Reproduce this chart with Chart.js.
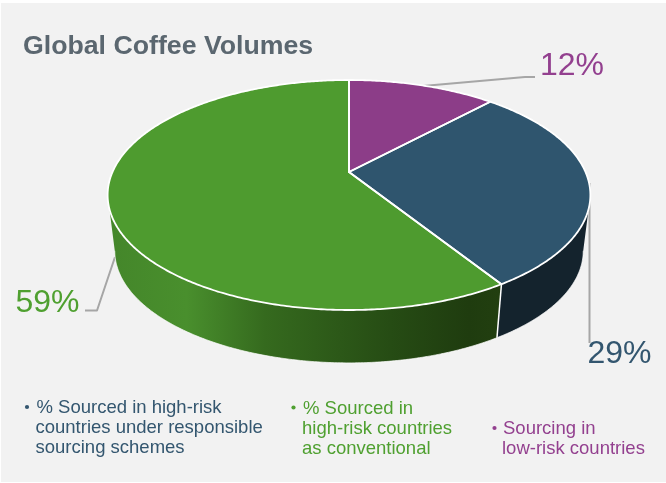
<!DOCTYPE html>
<html>
<head>
<meta charset="utf-8">
<style>
html,body{margin:0;padding:0;background:#fff;width:666px;height:483px;overflow:hidden}
canvas{display:block}
</style>
<script src="https://cdn.jsdelivr.net/npm/chart.js@4/dist/chart.umd.min.js"></script>
</head>
<body>
<canvas id="c" width="666" height="483"></canvas>
<script>
const titleText = 'Global Coffee Volumes';
const categories = ['Sourcing in low-risk countries', '% Sourced in high-risk countries under responsible sourcing schemes', '% Sourced in high-risk countries as conventional'];
const shares = [12, 29, 59];
const topColors = ['#8c3d88', '#2f556e', '#4e9b2f'];
const labelColors = ['#93408f', '#33566f', '#4fa030'];
const legendLow = ['Sourcing in', 'low-risk countries'];
const legendResponsible = ['% Sourced in high-risk', 'countries under responsible', 'sourcing schemes'];
const legendConventional = ['% Sourced in', 'high-risk countries', 'as conventional'];

const FONT = '"Liberation Sans", Arial, sans-serif';
const TOP = {cx: 349, cy: 172, a: 236.5, b: 110.4, k: 0.2};
const BOT = {cx: 349, cy: 228.4, a: 229.5, b: 107.6, k: 0.2};
const project = (g, t) => {
  const u = Math.cos(t), v = Math.sin(t), w = 1 - g.k * v;
  return [g.cx + g.a * u / w, g.cy + g.b * v / w];
};
const trace = (ctx, g, s, e, first) => {
  const n = Math.max(2, Math.ceil(Math.abs(e - s) / 0.01));
  for (let i = 0; i <= n; i++) {
    const p = project(g, s + (e - s) * i / n);
    if (i === 0 && first) ctx.moveTo(p[0], p[1]); else ctx.lineTo(p[0], p[1]);
  }
};
const polyline = (ctx, pts, color, w) => {
  ctx.beginPath();
  pts.forEach((p, i) => i ? ctx.lineTo(p[0], p[1]) : ctx.moveTo(p[0], p[1]));
  ctx.strokeStyle = color; ctx.lineWidth = w; ctx.lineJoin = 'round'; ctx.stroke();
};
const text = (ctx, s, x, y, font, color) => {
  ctx.font = font; ctx.fillStyle = color; ctx.textAlign = 'left'; ctx.textBaseline = 'alphabetic';
  ctx.fillText(s, x, y);
};
const block = (ctx, lines, bulletX, xs, y0, color) => {
  const f = '18.5px ' + FONT;
  ctx.beginPath(); ctx.arc(bulletX, y0 - 6, 2.1, 0, Math.PI * 2); ctx.fillStyle = color; ctx.fill();
  lines.forEach((l, i) => text(ctx, l, i ? xs - 1 : xs, y0 + i * 20.2, f, color));
};

const pie3d = {
  id: 'pie3d',
  beforeDraw(chart) {
    const ctx = chart.ctx;
    ctx.save();
    ctx.fillStyle = '#f2f2f2';
    ctx.fillRect(1, 3, 665, 479);
    ctx.restore();
  },
  beforeDatasetsDraw(chart) {
    const ctx = chart.ctx, arcs = chart.getDatasetMeta(0).data;
    const vis0 = Math.asin(TOP.k), vis1 = Math.PI - vis0;
    ctx.save();
    // leader lines
    polyline(ctx, [[423, 86], [525, 77], [535, 77]], '#a6a6a6', 2);
    polyline(ctx, [[589.5, 183], [589.5, 343]], '#a6a6a6', 2);
    polyline(ctx, [[85, 310.5], [97, 310.5], [115, 257]], '#a6a6a6', 2);
    // side walls
    const grad = ctx.createLinearGradient(108, 0, 500, 0);
    grad.addColorStop(0, '#44862a');
    grad.addColorStop(0.2, '#498f2d');
    grad.addColorStop(0.4, '#356a1e');
    grad.addColorStop(0.72, '#264c14');
    grad.addColorStop(0.92, '#1f3c0f');
    grad.addColorStop(1, '#223f10');
    const sideFill = [null, '#14232d', grad];
    arcs.forEach((arc, i) => {
      const s = Math.max(arc.startAngle, vis0), e = Math.min(arc.endAngle, vis1);
      if (e <= s || !sideFill[i]) return;
      ctx.beginPath();
      trace(ctx, TOP, s, e, true);
      trace(ctx, BOT, e, s, false);
      ctx.closePath();
      ctx.fillStyle = sideFill[i];
      ctx.fill();
    });
    arcs.forEach(arc => {
      if (arc.endAngle > vis0 && arc.endAngle < vis1) {
        const a = project(TOP, arc.endAngle), b = project(BOT, arc.endAngle);
        polyline(ctx, [a, b], '#ffffff', 1.5);
      }
    });
    ctx.beginPath();
    trace(ctx, BOT, vis0, vis1, true);
    ctx.strokeStyle = 'rgba(255,255,255,0.7)'; ctx.lineWidth = 1; ctx.stroke();
    // top face
    arcs.forEach((arc, i) => {
      ctx.beginPath();
      ctx.moveTo(TOP.cx, TOP.cy);
      trace(ctx, TOP, arc.startAngle, arc.endAngle, false);
      ctx.closePath();
      ctx.fillStyle = topColors[i];
      ctx.fill();
    });
    arcs.forEach(arc => {
      ctx.beginPath();
      ctx.moveTo(TOP.cx, TOP.cy);
      trace(ctx, TOP, arc.startAngle, arc.endAngle, false);
      ctx.closePath();
      ctx.strokeStyle = '#ffffff'; ctx.lineWidth = 1.8; ctx.lineJoin = 'round';
      ctx.stroke();
    });
    // value labels
    const big = '32px ' + FONT;
    text(ctx, shares[0] + '%', 540, 74.5, big, labelColors[0]);
    text(ctx, shares[1] + '%', 587.5, 362.5, big, labelColors[1]);
    text(ctx, shares[2] + '%', 15.5, 311.5, big, labelColors[2]);
    // legend text
    block(ctx, legendResponsible, 27, 36.5, 413, labelColors[1]);
    block(ctx, legendConventional, 293.5, 303, 413.5, labelColors[2]);
    block(ctx, legendLow, 494.5, 503, 434, labelColors[0]);
    ctx.restore();
    return false;
  }
};

new Chart(document.getElementById('c'), {
  type: 'pie',
  data: {labels: categories, datasets: [{data: shares, backgroundColor: topColors}]},
  options: {
    responsive: false,
    animation: false,
    layout: {padding: {left: 23, top: 0}},
    plugins: {
      legend: {display: false},
      tooltip: {enabled: false},
      title: {
        display: true, text: titleText, align: 'start', color: '#5b6770',
        font: {family: FONT, size: 26.7, weight: 'bold'}, padding: {top: 31, bottom: 0}
      }
    }
  },
  plugins: [pie3d]
});
</script>
</body>
</html>
